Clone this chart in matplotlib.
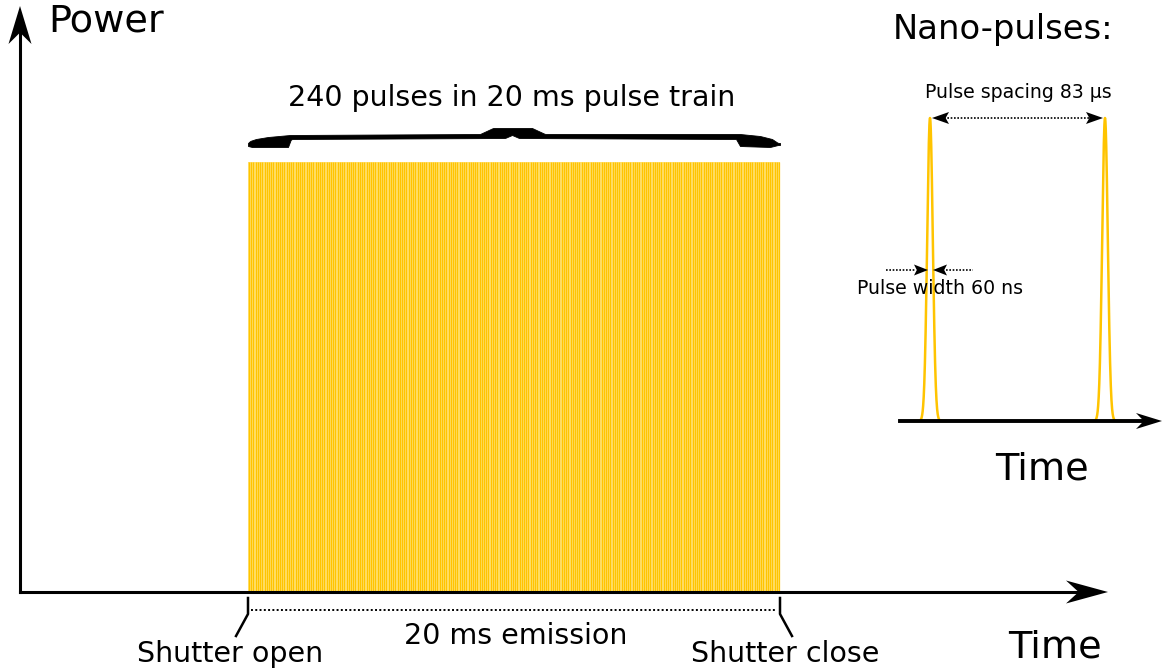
import matplotlib.pyplot as plt
import numpy as np
from matplotlib.patches import Polygon

# chart content
n_pulses = 240
train_label = f'{n_pulses} pulses in 20 ms pulse train'
emission_label = '20 ms emission'
spacing_label = 'Pulse spacing 83 µs'
width_label = 'Pulse width 60 ns'
nano_centres = [930, 1105]          # inset pulse positions (px)
train_span = (248, 780)             # shutter open / close (px)
train_top, base_y = 162, 592
nano_base, nano_top = 421, 118

gold = '#FFC400'
light_gold = '#FFE070'
font = 'DejaVu Sans'

fig = plt.figure(figsize=(11.62, 6.69), dpi=100)
ax = fig.add_axes([0, 0, 1, 1])
ax.set_xlim(0, 1162)
ax.set_ylim(669, 0)
ax.axis('off')


def arrow_head(tip, direction, length, half_w, notch=0.3):
    d = np.array(direction, float)
    d /= np.linalg.norm(d)
    n = np.array([-d[1], d[0]])
    tip = np.array(tip, float)
    back = tip - d * length
    pts = [tip, back + n * half_w, tip - d * length * (1 - notch), back - n * half_w]
    ax.add_patch(Polygon(pts, closed=True, color='black', lw=0, zorder=5))


# main axes
ax.plot([20, 20], [base_y, 30], color='black', lw=2.2)
arrow_head((20, 6), (0, -1), 38, 11.5)
ax.plot([20, 1085], [base_y, base_y], color='black', lw=2.2, zorder=4)
arrow_head((1108, base_y), (1, 0), 42, 11.5)

# pulse train
x0, x1 = train_span
ax.fill_between([x0, x1], train_top, base_y, color=light_gold, lw=0, zorder=1)
pulse_x = np.linspace(x0 + 1, x1 - 1, n_pulses)
ax.vlines(pulse_x, train_top, base_y, color=gold, lw=0.9, zorder=2)

# curly brace above the train
bx = np.linspace(x0, x1, 400)
top_k = ([248, 250, 256, 268, 290, 480, 493, 532, 545, 740, 760, 772, 778],
         [143, 141, 139, 137, 135, 134, 128, 128, 134, 134, 136, 139, 143])
bot_k = ([248, 252, 288, 291, 505, 512, 519, 736, 740, 770, 778],
         [146, 147, 147, 139, 138, 135, 138, 139, 146, 147, 145])
top = np.interp(bx, *top_k)
bot = np.interp(bx, *bot_k)
ax.fill_between(bx, top, bot, color='black', lw=0.6, zorder=3)

# shutter markers and emission span
ax.plot([x0, x0, 236], [598, 614, 636], color='black', lw=1.8)
ax.plot([x1, x1, 792], [598, 614, 636], color='black', lw=1.8)
ax.plot([x0 + 3, x1 - 3], [610, 610], color='black', lw=1.4, ls=(0, (1, 1.2)))

# nano-pulse inset
ax.plot([900, 1145], [nano_base, nano_base], color='black', lw=2.8, zorder=4)
arrow_head((1162, nano_base), (1, 0), 26, 8)
t = np.linspace(-16, 16, 400)
shape = np.exp(-t ** 2 / (2 * 2.8 ** 2))
for c in nano_centres:
    ax.plot(c + t, nano_base - (nano_base - nano_top) * shape, color=gold, lw=1.8, zorder=3)

# spacing arrow
ax.plot([nano_centres[0] + 14, nano_centres[1] - 14], [nano_top, nano_top],
        color='black', lw=1.2, ls=(0, (1, 1)))
arrow_head((nano_centres[0] + 2, nano_top), (-1, 0), 17, 6, notch=0.2)
arrow_head((nano_centres[1] - 2, nano_top), (1, 0), 17, 6, notch=0.2)

# width arrows
ax.plot([886, 916], [270, 270], color='black', lw=1.2, ls=(0, (1, 1)))
ax.plot([946, 973], [270, 270], color='black', lw=1.2, ls=(0, (1, 1)))
arrow_head((nano_centres[0] - 2, 270), (1, 0), 14, 5.5, notch=0.2)
arrow_head((nano_centres[0] + 3, 270), (-1, 0), 14, 5.5, notch=0.2)

# labels
ax.text(48, 22, 'Power', fontsize=27.5, family=font, va='center', ha='left')
ax.text(1055, 647, 'Time', fontsize=27.5, family=font, va='center', ha='center')
ax.text(512, 98, train_label, fontsize=20.5, family=font, va='center', ha='center')
ax.text(516, 636, emission_label, fontsize=20.5, family=font, va='center', ha='center')
ax.text(230, 654, 'Shutter open', fontsize=20.5, family=font, va='center', ha='center')
ax.text(785, 654, 'Shutter close', fontsize=20.5, family=font, va='center', ha='center')
ax.text(1003, 29, 'Nano-pulses:', fontsize=24.3, family=font, va='center', ha='center')
ax.text(1042, 469, 'Time', fontsize=27.5, family=font, va='center', ha='center')
ax.text(1018, 92, spacing_label, fontsize=13.6, family=font, va='center', ha='center')
ax.text(940, 289, width_label, fontsize=13.6, family=font, va='center', ha='center')

fig.savefig('out.png', dpi=100, facecolor='white')
